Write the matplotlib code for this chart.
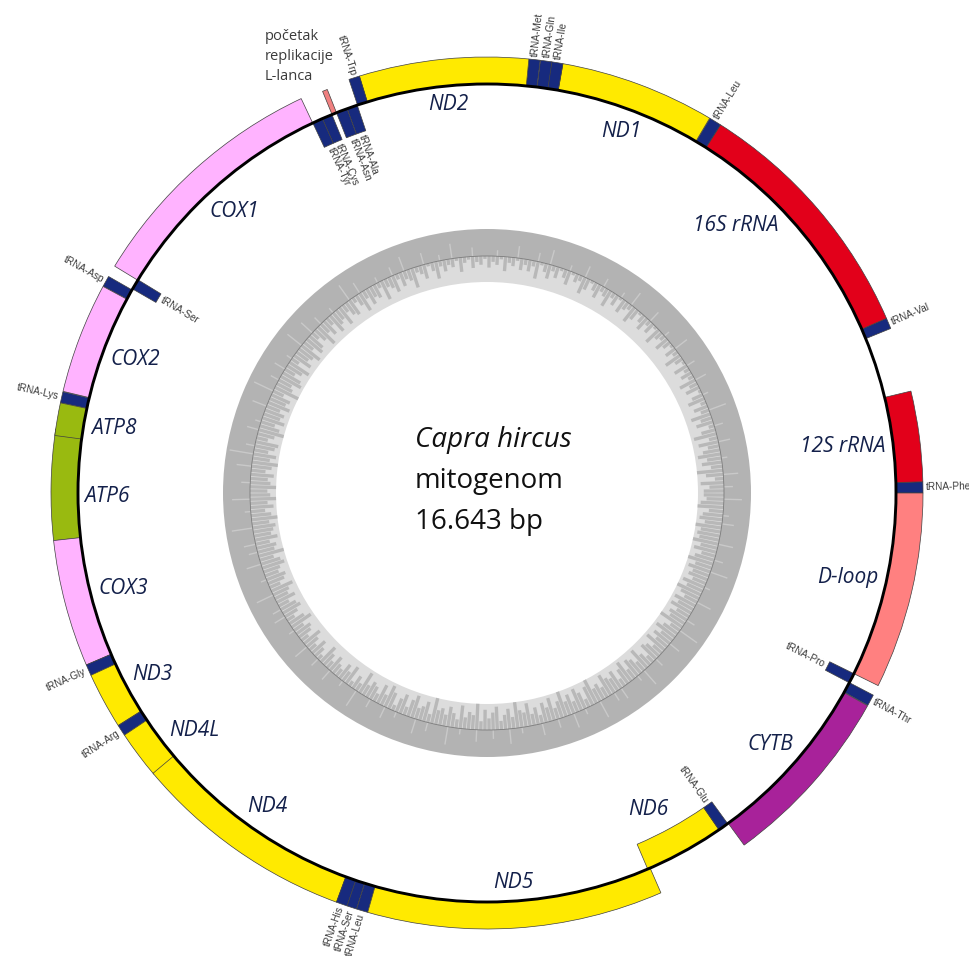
import numpy as np
import matplotlib
matplotlib.use('Agg')
import matplotlib.pyplot as plt
from matplotlib.patches import Wedge, Circle
from matplotlib.collections import LineCollection

# ---------------- data ----------------
GENOME_LEN = 16643

feat_names = ['tRNA-Phe', '12S rRNA', 'tRNA-Val', '16S rRNA', 'tRNA-Leu', 'ND1',
              'tRNA-Ile', 'tRNA-Gln', 'tRNA-Met', 'ND2', 'tRNA-Trp', 'tRNA-Ala',
              'tRNA-Asn', 'OL', 'tRNA-Cys', 'tRNA-Tyr', 'COX1', 'tRNA-Ser', 'tRNA-Asp',
              'COX2', 'tRNA-Lys', 'ATP6', 'ATP8', 'COX3', 'tRNA-Gly', 'ND3', 'tRNA-Arg',
              'ND4L', 'ND4', 'tRNA-His', 'tRNA-Ser', 'tRNA-Leu', 'ND5', 'ND6',
              'tRNA-Glu', 'CYTB', 'tRNA-Thr', 'tRNA-Pro', 'D-loop']
feat_start = [1, 69, 1026, 1093, 2665, 2742, 3698, 3766, 3838, 3907, 4948, 5017,
              5087, 5160, 5192, 5259, 5328, 6870, 6946, 7015, 7702, 7932, 7771, 8612,
              9396, 9465, 9813, 9882, 10172, 11549, 11618, 11679, 11749, 13553,
              14081, 14154, 15297, 15366, 15432]
feat_end = [68, 625, 1092, 2664, 2739, 3697, 3766, 3835, 3906, 4948, 5014, 5085,
            5159, 5190, 5258, 5326, 6872, 6938, 7013, 7698, 7769, 8612, 7971, 9395,
            9464, 9811, 9881, 10178, 11549, 11617, 11677, 11748, 13569, 14080,
            14149, 15293, 15366, 15431, 16643]
# +1 = drawn outside the black circle, -1 = drawn inside
feat_strand = [1, 1, 1, 1, 1, 1, 1, 1, 1, 1, 1, -1, -1, 1, -1, -1, 1, -1, 1, 1, 1,
               1, 1, 1, 1, 1, 1, 1, 1, 1, 1, 1, 1, -1, -1, 1, 1, -1, 1]
feat_type = ['trna', 'rrna', 'trna', 'rrna', 'trna', 'nd', 'trna', 'trna', 'trna',
             'nd', 'trna', 'trna', 'trna', 'ol', 'trna', 'trna', 'cox', 'trna', 'trna',
             'cox', 'trna', 'atp', 'atp', 'cox', 'trna', 'nd', 'trna', 'nd', 'nd',
             'trna', 'trna', 'trna', 'nd', 'nd', 'trna', 'cytb', 'trna', 'trna', 'dloop']

# inner ring (sequence composition plot), one value per degree, counter-clockwise
# from the tRNA-Phe position: inward dark-bar depth (0-9)
ring_depth = ("7583694758" "6473852647" "3526415362" "4251362413" "5236142531"
              "4623514263" "2531462315" "3142531624" "2413251324" "1324125132"
              "4263153274" "3526437254" "6374265374" "5736485367" "4865738647"
              "8569476857" "6857964875" "8697586796" "7968579687" "6857695786"
              "5764865746" "7536846537" "5364275364" "3647253846" "5374862573"
              "6845739564" "7538465937" "4683574965" "8463758469" "5748637956"
              "4865736847" "6485376485" "7586496758" "6857968576" "8697586978"
              "7968759867")
# outward light-streak length (0-9) in the outer band
ring_light = ("0300500020" "0040003000" "6000200040" "0030000500" "0200004000"
              "0050020000" "3000040002" "0000500300" "0040000200" "0003000050"
              "0200040000" "5003000200" "0040060000" "2000300500" "0600020040"
              "0300700050" "0020400030" "8005000300" "0600200070" "0040300500"
              "0200060003" "0400020000" "5000300040" "0020006000" "3000400200"
              "0050030000" "6002000400" "0300050020" "0004000300" "0500200060"
              "0030400002" "0600030000" "4000700300" "0050002000" "6003000500"
              "0040200060")

title_lines = ['Capra hircus', 'mitogenom', '16.643 bp']
ol_note = ['početak', 'replikacije', 'L-lanca']

# ---------------- style ----------------
colors = {'trna': '#172a7e', 'rrna': '#e2001a', 'nd': '#ffea00', 'cox': '#ffb3ff',
          'atp': '#99ba10', 'cytb': '#a8229a', 'dloop': '#ff8080', 'ol': '#f08080'}
label_angle_override = {'16S rRNA': 47.0, 'ND4L': 219.0, 'ATP6': 180.5, 'ND6': 297.0}

W, H = 970, 956
fig = plt.figure(figsize=(W / 100, H / 100), dpi=100)
ax = fig.add_axes([0, 0, 1, 1])
ax.set_xlim(0, W)
ax.set_ylim(0, H)
ax.axis('off')

CX, CY = 487.0, H - 493.0
R = 409.0
BAND = 27.0
ANG0 = 0.0


def ang(p):
    return ANG0 + 360.0 * p / GENOME_LEN


def pol(r, a):
    t = np.deg2rad(a)
    return CX + r * np.cos(t), CY + r * np.sin(t)


# ---- inner composition ring ----
R_IN, R_MID, R_OUT = 211.0, 237.0, 264.0
ax.add_patch(Wedge((CX, CY), R_MID, 0, 360, width=R_MID - R_IN,
                   facecolor='#dcdcdc', edgecolor='none', zorder=1))
ax.add_patch(Wedge((CX, CY), R_OUT, 0, 360, width=R_OUT - R_MID,
                   facecolor='#b3b3b3', edgecolor='none', zorder=1))
segs = []
for i, ch in enumerate(ring_depth):
    d = int(ch) / 9.0 * (R_MID - R_IN)
    a = ANG0 + i + 0.5
    segs.append([pol(R_MID, a), pol(R_MID - d, a)])
ax.add_collection(LineCollection(segs, colors='#b8b8b8', linewidths=2.4, zorder=2))
segs = []
for i, ch in enumerate(ring_light):
    if ch == '0':
        continue
    d = int(ch) / 9.0 * (R_OUT - R_MID)
    a = ANG0 + i + 0.5
    segs.append([pol(R_MID, a), pol(R_MID + d, a)])
ax.add_collection(LineCollection(segs, colors='#c9c9c9', linewidths=1.0, zorder=2))
ax.add_patch(Circle((CX, CY), R_MID, fill=False, edgecolor='#7a7a7a', lw=0.6, zorder=3))

# ---- features ----
for name, s, e, st, ty in zip(feat_names, feat_start, feat_end, feat_strand, feat_type):
    a1, a2 = ang(s - 1), ang(e)
    if ty == 'ol':
        r_out, width = R + 25, 25
    elif st > 0:
        r_out, width = R + BAND, BAND
    else:
        r_out, width = R, BAND
    ax.add_patch(Wedge((CX, CY), r_out, a1, a2, width=width,
                       facecolor=colors[ty], edgecolor='#404040', lw=0.5, zorder=4))

ax.add_patch(Circle((CX, CY), R, fill=False, edgecolor='black', lw=2.1, zorder=6))

# ---- tRNA labels ----
for name, s, e, st, ty in zip(feat_names, feat_start, feat_end, feat_strand, feat_type):
    if ty != 'trna':
        continue
    mid = ang((s + e) / 2.0)
    if st > 0:
        r = R + BAND + 3
        rot = mid
    else:
        r = R - BAND - 3
        rot = mid + 180
    rot = (rot + 180) % 360 - 180
    ha = 'left'
    if rot > 90 or rot < -90:
        rot = (rot + 360) % 360 - 180
        ha = 'right'
    x, y = pol(r, mid)
    ax.text(x, y, name, rotation=rot, rotation_mode='anchor', ha=ha, va='center',
            fontsize=7.2, color='#3a3a3a', family='Liberation Sans', zorder=7)

# ---- gene labels ----
gene_texts = []
for name, s, e, st, ty in zip(feat_names, feat_start, feat_end, feat_strand, feat_type):
    if ty in ('trna', 'ol'):
        continue
    mid = label_angle_override.get(name, ang((s + e) / 2.0))
    gap = 6 if st > 0 else BAND + 8
    t = ax.text(0, 0, name, style='italic', fontsize=15, family='Open Sans',
                color='#13204a', ha='center', va='center', zorder=7)
    gene_texts.append((t, mid, gap))

fig.canvas.draw()
renderer = fig.canvas.get_renderer()
for t, a, gap in gene_texts:
    bb = t.get_window_extent(renderer)
    hw, hh = bb.width / 2, bb.height / 2
    ux, uy = np.cos(np.deg2rad(a)), np.sin(np.deg2rad(a))
    lo, hi = 0.0, R
    for _ in range(50):
        d = (lo + hi) / 2
        m = max(np.hypot(d * ux + sx * hw, d * uy + sy * hh)
                for sx in (-1, 1) for sy in (-1, 1))
        if m > R - gap:
            hi = d
        else:
            lo = d
    t.set_position((CX + lo * ux, CY + lo * uy))

# ---- centre title ----
for i, line in enumerate(title_lines):
    ax.text(415, H - 440 - 41 * i, line, fontsize=20, family='Open Sans',
            style='italic' if i == 0 else 'normal', color='#111111',
            ha='left', va='center', zorder=7)

# ---- OL note ----
for i, line in enumerate(ol_note):
    ax.text(265, H - 36 - 20 * i, line, fontsize=10.5, family='Open Sans',
            color='#3b3b3b', ha='left', va='center', zorder=7)

fig.savefig('out.png', dpi=100, facecolor='white')
